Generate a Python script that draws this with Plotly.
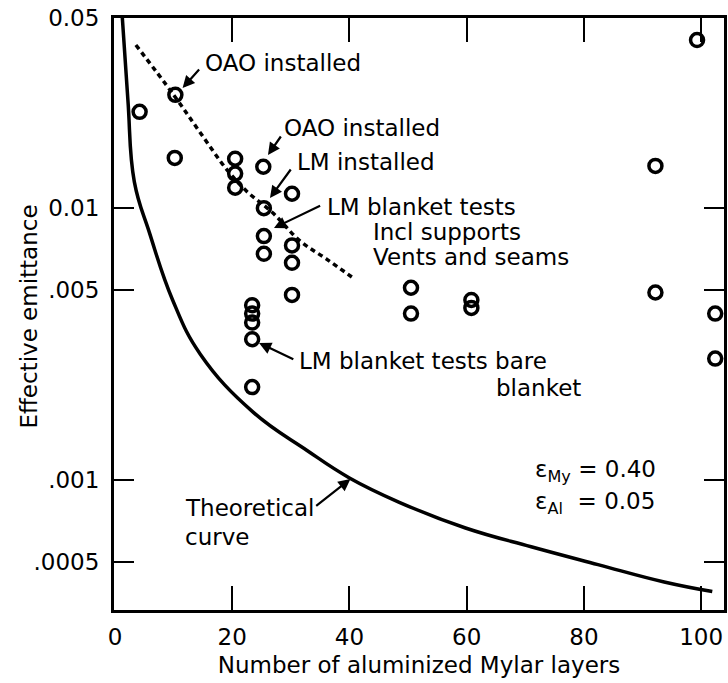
import numpy as np
import plotly.graph_objects as go

# ---- data ----
layers = [4.2, 10.3, 10.2, 20.5, 20.5, 20.5, 25.3, 30.2, 25.4, 25.4, 25.4, 30.2, 30.2, 30.2,
          23.4, 23.4, 23.4, 23.4, 23.4, 50.5, 50.5, 60.8, 60.8, 92.2, 92.2, 99.3, 102.4, 102.4]
emittance = [0.0226, 0.0261, 0.0153, 0.0152, 0.0134, 0.0119, 0.0142, 0.0113, 0.0100, 0.0079,
             0.0068, 0.0073, 0.0063, 0.0048, 0.0044, 0.0041, 0.0038, 0.0033, 0.0022, 0.0051,
             0.0041, 0.0046, 0.0043, 0.0049, 0.0143, 0.0415, 0.0041, 0.0028]

theory_x = [1.2, 2.2, 3.3, 5.9, 9.83, 14.58, 23.56, 32.7, 40.0, 48.5, 59.8, 71.0, 82.4, 93.7, 101.9]
theory_y = [0.052, 0.025, 0.0125, 0.0081, 0.0046, 0.0029, 0.00178, 0.00129, 0.00102, 0.00083,
            0.000668, 0.00057, 0.00049, 0.000423, 0.00039]

trend_x = [3.56, 10.0, 14.58, 19.15, 22.54, 26.95, 31.5, 36.1, 40.85]
trend_y = [0.0398, 0.0261, 0.0189, 0.0138, 0.0115, 0.0096, 0.0076, 0.0065, 0.0055]

x_ticks = [0, 20, 40, 60, 80, 100]
y_ticks = [0.0005, 0.001, 0.005, 0.01, 0.05]
y_ticktext = [".0005", ".001", ".005", "0.01", "0.05"]

FONT = "DejaVu Sans"
FS = 23

fig = go.Figure()
fig.add_trace(go.Scatter(x=theory_x, y=theory_y, mode="lines",
                         line=dict(color="black", width=3.5, shape="spline", smoothing=1.2),
                         showlegend=False, hoverinfo="skip"))
fig.add_trace(go.Scatter(x=trend_x, y=trend_y, mode="lines",
                         line=dict(color="black", width=3.5, dash="5px,4px", shape="spline"),
                         showlegend=False, hoverinfo="skip"))
fig.add_trace(go.Scatter(x=layers, y=emittance, mode="markers",
                         marker=dict(symbol="circle-open", size=13, color="black",
                                     line=dict(width=3.5, color="black")),
                         showlegend=False))

# pointer arrows: (tail_x, tail_log10, head_x, head_log10)
arrows = [
    (14.58, -1.4848, 11.53, -1.5583),
    (28.47, -1.7310, 26.10, -1.8045),
    (30.17, -1.8523, 26.44, -1.9625),
    (35.25, -1.9882, 27.12, -2.0728),
    (30.68, -2.5579, 24.58, -2.4954),
    (34.07, -3.0981, 40.17, -2.9952),
]
for tx, ty, hx, hy in arrows:
    fig.add_annotation(x=hx, y=hy, ax=tx, ay=ty, xref="x", yref="y", axref="x", ayref="y",
                       text="", showarrow=True, arrowhead=2, arrowsize=1.1,
                       arrowwidth=2.2, arrowcolor="black")

labels = [
    ("OAO installed", 15.08, -1.4664),
    ("OAO installed", 28.47, -1.7053),
    ("LM installed", 30.68, -1.8302),
    ("LM blanket tests", 35.76, -1.9956),
    ("Incl supports", 43.73, -2.0875),
    ("Vents and seams", 43.73, -2.1793),
    ("LM blanket tests bare", 31.02, -2.5615),
    ("blanket", 64.58, -2.6608),
    ("Theoretical", 11.53, -3.1018),
    ("curve", 11.53, -3.2084),
    ("ε<sub>My</sub> = 0.40", 71.36, -2.9658),
    ("ε<sub>Al</sub>  = 0.05", 71.36, -3.0834),
]
for txt, x, y in labels:
    fig.add_annotation(x=x, y=y, xref="x", yref="y", text=txt, showarrow=False,
                       xanchor="left", yanchor="middle",
                       font=dict(family=FONT, size=FS, color="black"))

# y-axis title placed as a rotated annotation so it sits where the reference puts it
fig.add_annotation(x=-0.14, y=0.495, xref="paper", yref="paper", text="Effective emittance",
                   textangle=-90, showarrow=False, xanchor="center", yanchor="middle",
                   font=dict(family=FONT, size=FS, color="black"))

fig.update_xaxes(range=[-0.17, 103.9], tickvals=x_ticks, ticks="inside", ticklen=24,
                 tickwidth=2, tickcolor="black", showline=True, linewidth=3,
                 linecolor="black", mirror="ticks", showgrid=False, zeroline=False,
                 tickfont=dict(family=FONT, size=FS, color="black"),
                 ticklabelstandoff=4,
                 title=dict(text="Number of aluminized Mylar layers",
                            font=dict(family=FONT, size=FS, color="black"), standoff=9))
fig.update_yaxes(type="log", range=[-3.4767, -1.301], tickvals=y_ticks, ticktext=y_ticktext,
                 ticks="inside", ticklen=20, tickwidth=2, tickcolor="black", showline=True,
                 linewidth=3, linecolor="black", mirror="ticks", showgrid=False,
                 zeroline=False, tickfont=dict(family=FONT, size=FS, color="black"),
                 ticklabelstandoff=7)

fig.update_layout(width=728, height=683, autosize=False,
                  margin=dict(l=114, r=1, t=18, b=73),
                  paper_bgcolor="white", plot_bgcolor="white",
                  font=dict(family=FONT, size=FS, color="black"))

fig.write_html("out.html", config={"displayModeBar": False},
               post_script="document.body.style.margin='0';document.body.style.padding='0';")
